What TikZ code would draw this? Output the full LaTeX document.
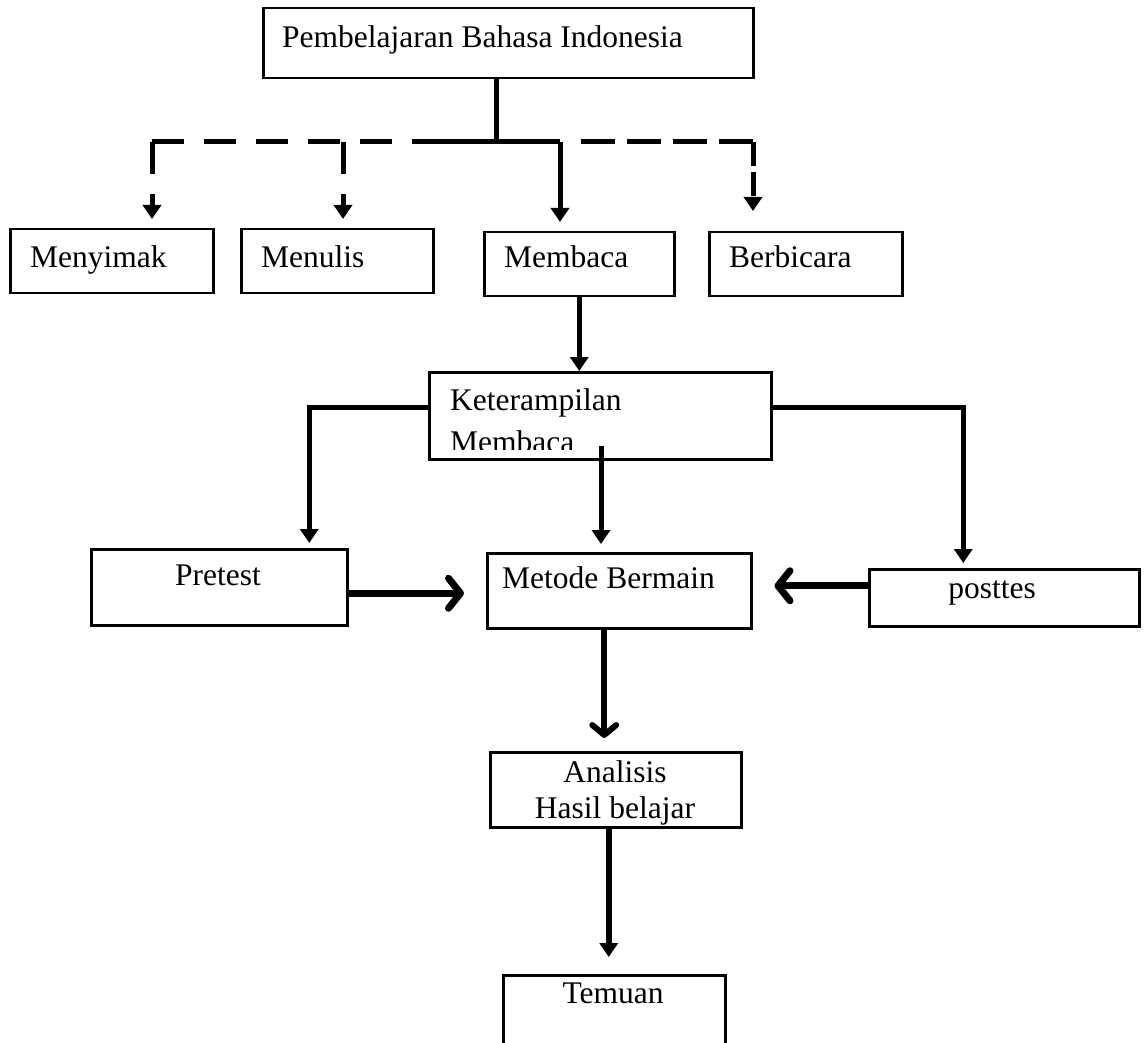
\documentclass[tikz,border=0pt]{standalone}
\usepackage{fontspec}
\setmainfont{Liberation Serif}
\usetikzlibrary{arrows.meta}

\tikzset{
    box/.style={draw, line width=2.5pt, inner sep=0pt, anchor=north west},
    txt/.style={font=\fontsize{31.5}{36}\selectfont, inner sep=0pt},
    conn/.style={line width=5pt},
    dashbar/.style={conn, dash pattern=on 32pt off 20pt},
    dashbar right/.style={conn, dash pattern=on 34pt off 12pt},
    filltip/.style={-{Triangle[length=14pt,width=18pt]}},
    barbtip/.style={-{Straight Barb[length=12pt,width=30pt,round]}},
}

\begin{document}
\begin{tikzpicture}[x=1pt, y=-1pt]
    \useasboundingbox (0,0) rectangle (1144,1043);
    \clip (0,0) rectangle (1144,1043);
    % Top box
    \node[box, minimum width=490pt, minimum height=70pt] (Top) at (262,7) {};
    \node[txt, anchor=base west] (Top-text) at (282,48) {Pembelajaran Bahasa Indonesia};
    % Skills
    \foreach \name/\i/\x/\y/\w in {Menyimak/1/9/228/203, Menulis/2/240/228/192, Membaca/3/483/231/190, Berbicara/4/708/231/193} {
        \node[box, minimum width=\w pt, minimum height=64pt] (Skill-\i) at (\x,\y) {};
        \node[txt, anchor=base west] (Skill-\i-text) at (\x+21,268) {\name};
    }
    % Branches
    \coordinate (Hub) at (496,142);
    \coordinate (Bar-L) at (415,142);
    \coordinate (Bar-R) at (580,142);
    \coordinate (Branch-1) at (152,142);
    \coordinate (Branch-2) at (343,142);
    \coordinate (Branch-3) at (560,142);
    \coordinate (Branch-4) at (753,142);
    \draw[conn] (Hub |- Top.south) -- (Hub);
    \draw[conn] (Bar-L) -- (Branch-3);
    \draw[dashbar] (Branch-1) -- (Bar-L);
    \draw[dashbar right] (Branch-4) -- (Bar-R);
    \foreach \i in {1,2} {
        \draw[dashbar, filltip, shorten >=9pt] (Branch-\i) -- (Branch-\i |- Skill-\i.north);
    }
    \draw[dashbar, dash pattern=on 24pt off 6pt, filltip, shorten >=20pt] (Branch-4) -- (Branch-4 |- Skill-4.north);
    \draw[conn, filltip, shorten >=9pt] (Branch-3) -- (Branch-3 |- Skill-3.north);
    % Keterampilan
    \node[box, minimum width=342pt, minimum height=87pt] (Keterampilan) at (428,371) {};
    \begin{scope}
        \clip (428,371) rectangle (770,449);
        \node[txt, anchor=north west, align=left] (Keterampilan-text) at (450,388) {Keterampilan\\[6pt]Membaca};
    \end{scope}
    \draw[conn, filltip] (Skill-3.south) -- (Skill-3.south |- Keterampilan.north);
    % Pretest, Metode, posttes
    \node[box, minimum width=256pt, minimum height=76pt] (Pretest) at (90,548) {};
    \node[txt, anchor=base] (Pretest-text) at (218,585) {Pretest};
    \node[box, minimum width=264pt, minimum height=75pt] (Metode) at (486,552) {};
    \node[txt, anchor=base west] (Metode-text) at (502,588) {Metode Bermain};
    \node[box, minimum width=270pt, minimum height=57pt] (Posttes) at (868,568) {};
    \node[txt, anchor=base] (Posttes-text) at (992,598) {posttes};
    \coordinate (Keterampilan-in) at (601,446);
    \draw[conn, filltip, shorten >=5pt] ([yshift=8pt]Keterampilan.west) -| ([xshift=90pt]Pretest.north);
    \draw[conn, filltip, shorten >=5pt] ([yshift=8pt]Keterampilan.east) -| ([xshift=-41pt]Posttes.north);
    \draw[conn, filltip, shorten >=8pt] (Keterampilan-in) -- (Keterampilan-in |- Metode.north);
    \draw[conn, line width=7pt, barbtip, shorten >=22pt] ([yshift=-6pt]Pretest.east) -- ([yshift=-6pt]Pretest.east -| Metode.west);
    \draw[conn, line width=7pt, barbtip, shorten >=22pt] ([yshift=12pt]Posttes.west) -- ([yshift=12pt]Posttes.west -| Metode.east);
    % Analisis, Temuan
    \node[box, minimum width=251pt, minimum height=75pt] (Analisis) at (489,751) {};
    \node[txt, anchor=north, align=center] (Analisis-text) at (615,760) {Analisis\\Hasil belajar};
    \node[box, minimum width=222pt, minimum height=80pt] (Temuan) at (502,974) {};
    \node[txt, anchor=base] (Temuan-text) at (613,1003) {Temuan};
    \draw[conn, line width=6pt, -{Straight Barb[length=10pt,width=24pt,round]}, shorten >=13pt] ([xshift=-15pt]Metode.south) -- ([xshift=-15pt]Metode.south |- Analisis.north);
    \draw[conn, line width=6pt, filltip, shorten >=17pt] ([xshift=-7pt]Analisis.south) -- ([xshift=-7pt]Analisis.south |- Temuan.north);
\end{tikzpicture}
\end{document}
